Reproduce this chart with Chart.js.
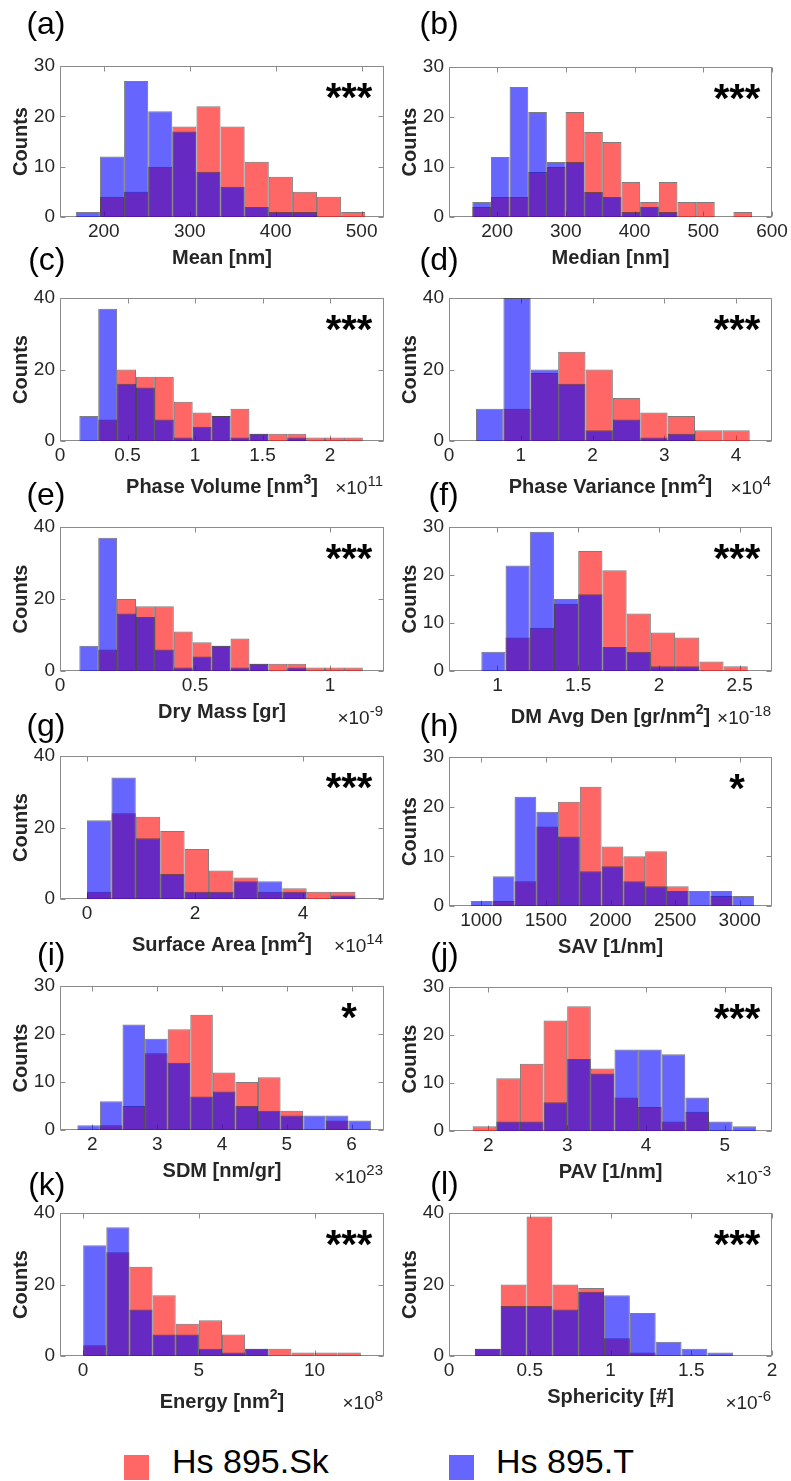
<!DOCTYPE html>
<html>
<head>
<meta charset="utf-8">
<script src="https://cdn.jsdelivr.net/npm/chart.js@4.4.0/dist/chart.umd.min.js"></script>
<style>
  body { margin: 0; background: #fff; width: 791px; height: 1481px; position: relative; overflow: hidden;
         font-family: "Liberation Sans", Arial, Helvetica, sans-serif; }
  canvas { position: absolute; }
  .key { position: absolute; top: 1455px; width: 25px; height: 25px; }
  .lab { position: absolute; top: 1441px; font-size: 34px; line-height: 40px; color: #000; white-space: nowrap; }
</style>
</head>
<body>
<div class="key" style="left:124px;background:rgba(255,0,0,0.6)"></div>
<div class="lab" id="lab-sk" style="left:172px"></div>
<div class="key" style="left:449px;background:rgba(0,0,255,0.6)"></div>
<div class="lab" id="lab-t" style="left:496px"></div>
<script>
const seriesNames = ["Hs 895.Sk", "Hs 895.T"];

// bin edges + counts for each histogram (Sk = red, T = blue)
const meanEdges = [167.40, 195.47, 223.54, 251.61, 279.68, 307.75, 335.82, 363.89, 391.96, 420.03, 448.10, 476.17, 504.24];
const meanSk = [0, 4, 5, 10, 18, 22, 18, 11, 8, 5, 4, 1];
const meanT = [1, 12, 27, 21, 17, 9, 6, 2, 1, 1, 0, 0];
const meanTicks = [200, 300, 400, 500];

const medianEdges = [163.90, 191.04, 218.18, 245.32, 272.46, 299.60, 326.74, 353.88, 381.02, 408.16, 435.30, 462.44, 489.58, 516.72, 543.86, 571.00];
const medianSk = [2, 4, 4, 9, 10, 21, 17, 15, 7, 3, 7, 3, 3, 0, 1];
const medianT = [3, 12, 26, 21, 11, 11, 5, 4, 1, 2, 1, 0, 0, 0, 0];
const medianTicks = [200, 300, 400, 500, 600];

const volumeEdges = [0.143, 0.283, 0.423, 0.563, 0.703, 0.843, 0.983, 1.123, 1.263, 1.403, 1.543, 1.683, 1.823, 1.963, 2.103, 2.243];
const volumeSk = [0, 6, 20, 18, 18, 11, 8, 7, 9, 2, 2, 2, 1, 1, 1];
const volumeT = [7, 37, 16, 15, 6, 1, 4, 7, 1, 2, 0, 1, 0, 0, 0];
const volumeTicks = [0, 0.5, 1, 1.5, 2];

const varianceEdges = [0.376, 0.757, 1.139, 1.520, 1.902, 2.283, 2.664, 3.046, 3.427, 3.809, 4.190];
const varianceSk = [0, 9, 19, 25, 20, 12, 8, 7, 3, 3];
const varianceT = [9, 40, 20, 16, 3, 6, 1, 2, 0, 0];
const varianceTicks = [0, 1, 2, 3, 4];

const dryMassEdges = [0.0715, 0.1415, 0.2115, 0.2815, 0.3515, 0.4215, 0.4915, 0.5615, 0.6315, 0.7015, 0.7715, 0.8415, 0.9115, 0.9815, 1.0515, 1.1215];
const dryMassSk = [0, 6, 20, 18, 18, 11, 8, 7, 9, 2, 2, 2, 1, 1, 1];
const dryMassT = [7, 37, 16, 15, 6, 1, 4, 7, 1, 2, 0, 1, 0, 0, 0];
const dryMassTicks = [0, 0.5, 1];

const densityEdges = [0.90, 1.05, 1.20, 1.35, 1.50, 1.65, 1.80, 1.95, 2.10, 2.25, 2.40, 2.55];
const densitySk = [0, 7, 9, 14, 25, 21, 12, 8, 7, 2, 1];
const densityT = [4, 22, 29, 15, 16, 5, 4, 1, 1, 0, 0];
const densityTicks = [1, 1.5, 2, 2.5];

const surfaceEdges = [0, 0.452, 0.904, 1.356, 1.808, 2.260, 2.712, 3.164, 3.616, 4.068, 4.520, 4.972];
const surfaceSk = [2, 24, 23, 19, 14, 8, 6, 2, 3, 2, 2];
const surfaceT = [22, 34, 17, 7, 2, 2, 5, 5, 2, 0, 1];
const surfaceTicks = [0, 2, 4];

const savEdges = [920, 1088.5, 1257, 1425.5, 1594, 1762.5, 1931, 2099.5, 2268, 2436.5, 2605, 2773.5, 2942, 3110.5];
const savSk = [0, 1, 5, 16, 21, 24, 12, 10, 11, 4, 0, 2, 0];
const savT = [1, 6, 22, 19, 14, 7, 8, 5, 4, 3, 3, 3, 2];
const savTicks = [1000, 1500, 2000, 2500, 3000];

const sdmEdges = [1.767, 2.116, 2.464, 2.813, 3.161, 3.510, 3.859, 4.207, 4.556, 4.904, 5.253, 5.602, 5.950, 6.299];
const sdmSk = [0, 1, 5, 16, 21, 24, 12, 10, 11, 4, 0, 2, 0];
const sdmT = [1, 6, 22, 19, 14, 7, 8, 5, 4, 3, 3, 3, 2];
const sdmTicks = [2, 3, 4, 5, 6];

const pavEdges = [1.8, 2.1, 2.4, 2.7, 3.0, 3.3, 3.6, 3.9, 4.2, 4.5, 4.8, 5.1, 5.4];
const pavSk = [1, 11, 14, 23, 26, 13, 7, 5, 2, 4, 0, 0];
const pavT = [0, 2, 2, 6, 15, 12, 17, 17, 16, 7, 2, 1];
const pavTicks = [2, 3, 4, 5];

const energyEdges = [0, 1, 2, 3, 4, 5, 6, 7, 8, 9, 10, 11, 12];
const energySk = [3, 29, 25, 17, 9, 10, 6, 2, 2, 1, 1, 1];
const energyT = [31, 36, 13, 6, 6, 2, 1, 2, 0, 0, 0, 0];
const energyTicks = [0, 5, 10];

const sphericityEdges = [0.16, 0.32, 0.48, 0.64, 0.80, 0.96, 1.12, 1.28, 1.44, 1.60, 1.76];
const sphericitySk = [2, 20, 39, 20, 19, 5, 1, 0, 0, 0];
const sphericityT = [2, 14, 14, 13, 18, 17, 12, 4, 2, 1];
const sphericityTicks = [0, 0.5, 1, 1.5, 2];

const counts30 = [0, 10, 20, 30];
const counts40 = [0, 20, 40];

const FONT = '"Liberation Sans", Arial, Helvetica, sans-serif';
const INK = "#262626";

// title pieces: [text, superscript?]
const panels = [
  { id: "a", edges: meanEdges, sk: meanSk, t: meanT, xMin: 149, xMax: 526, xTicks: meanTicks, yTicks: counts30,
    title: [["Mean [nm]", 0]], exp: null, stars: "***" },
  { id: "b", edges: medianEdges, sk: medianSk, t: medianT, xMin: 130, xMax: 600, xTicks: medianTicks, yTicks: counts30,
    title: [["Median [nm]", 0]], exp: null, stars: "***" },
  { id: "c", edges: volumeEdges, sk: volumeSk, t: volumeT, xMin: 0, xMax: 2.4, xTicks: volumeTicks, yTicks: counts40,
    title: [["Phase Volume [nm", 0], ["3", 1], ["]", 0]], exp: "11", stars: "***" },
  { id: "d", edges: varianceEdges, sk: varianceSk, t: varianceT, xMin: 0, xMax: 4.5, xTicks: varianceTicks, yTicks: counts40,
    title: [["Phase Variance [nm", 0], ["2", 1], ["]", 0]], exp: "4", stars: "***" },
  { id: "e", edges: dryMassEdges, sk: dryMassSk, t: dryMassT, xMin: 0, xMax: 1.2, xTicks: dryMassTicks, yTicks: counts40,
    title: [["Dry Mass [gr]", 0]], exp: "-9", stars: "***" },
  { id: "f", edges: densityEdges, sk: densitySk, t: densityT, xMin: 0.7, xMax: 2.7, xTicks: densityTicks, yTicks: counts30,
    title: [["DM Avg Den [gr/nm", 0], ["2", 1], ["]", 0]], exp: "-18", stars: "***" },
  { id: "g", edges: surfaceEdges, sk: surfaceSk, t: surfaceT, xMin: -0.5, xMax: 5.5, xTicks: surfaceTicks, yTicks: counts40,
    title: [["Surface Area [nm", 0], ["2", 1], ["]", 0]], exp: "14", stars: "***" },
  { id: "h", edges: savEdges, sk: savSk, t: savT, xMin: 750, xMax: 3250, xTicks: savTicks, yTicks: counts30,
    title: [["SAV [1/nm]", 0]], exp: null, stars: "*" },
  { id: "i", edges: sdmEdges, sk: sdmSk, t: sdmT, xMin: 1.5, xMax: 6.5, xTicks: sdmTicks, yTicks: counts30,
    title: [["SDM [nm/gr]", 0]], exp: "23", stars: "*" },
  { id: "j", edges: pavEdges, sk: pavSk, t: pavT, xMin: 1.5, xMax: 5.6, xTicks: pavTicks, yTicks: counts30,
    title: [["PAV [1/nm]", 0]], exp: "-3", stars: "***" },
  { id: "k", edges: energyEdges, sk: energySk, t: energyT, xMin: -1, xMax: 13, xTicks: energyTicks, yTicks: counts40,
    title: [["Energy [nm", 0], ["2", 1], ["]", 0]], exp: "8", stars: "***" },
  { id: "l", edges: sphericityEdges, sk: sphericitySk, t: sphericityT, xMin: 0, xMax: 2, xTicks: sphericityTicks, yTicks: counts40,
    title: [["Sphericity [#]", 0]], exp: "-6", stars: "***" }
];

// page placement of each axes box
const frames = {
  a: { col: 0, top: 66, bottom: 217, letterY: 33.5 },
  b: { col: 1, top: 67, bottom: 217, letterY: 33.5 },
  c: { col: 0, top: 298, bottom: 441, letterY: 270 },
  d: { col: 1, top: 298, bottom: 441, letterY: 270 },
  e: { col: 0, top: 527, bottom: 671, letterY: 505 },
  f: { col: 1, top: 527, bottom: 671, letterY: 505 },
  g: { col: 0, top: 756, bottom: 899, letterY: 736 },
  h: { col: 1, top: 757, bottom: 906, letterY: 736 },
  i: { col: 0, top: 986, bottom: 1130, letterY: 965 },
  j: { col: 1, top: 987, bottom: 1131, letterY: 965 },
  k: { col: 0, top: 1213, bottom: 1356, letterY: 1195 },
  l: { col: 1, top: 1213, bottom: 1356, letterY: 1194 }
};
const columns = [
  { left: 0, width: 395, axLeft: 60, axRight: 384, letterX: 65.5, countsPad: 9 },
  { left: 395, width: 396, axLeft: 449, axRight: 772, letterX: 63.7, countsPad: 3 }
];

function drawPieces(ctx, pieces, x, y, align, weight, size, supSize, raise) {
  const widths = pieces.map(([txt, sup]) => {
    ctx.font = `${weight} ${sup ? supSize : size}px ${FONT}`;
    return ctx.measureText(txt).width;
  });
  const total = widths.reduce((s, w) => s + w, 0);
  let cx = align === "center" ? x - total / 2 : align === "right" ? x - total : x;
  ctx.textAlign = "left";
  ctx.textBaseline = "alphabetic";
  pieces.forEach(([txt, sup], i) => {
    ctx.font = `${weight} ${sup ? supSize : size}px ${FONT}`;
    ctx.fillText(txt, cx, sup ? y - raise : y);
    cx += widths[i];
  });
}

function makeChart(p) {
  const fr = frames[p.id];
  const col = columns[fr.col];
  const cTop = fr.top - 62;
  const cH = fr.bottom - fr.top + 124;

  const canvas = document.createElement("canvas");
  canvas.width = col.width;
  canvas.height = cH;
  canvas.style.left = col.left + "px";
  canvas.style.top = cTop + "px";
  document.body.appendChild(canvas);

  const centers = p.edges.slice(0, -1).map((e, i) => (e + p.edges[i + 1]) / 2);
  const yMax = p.yTicks[p.yTicks.length - 1];

  const decor = {
    id: "decor",
    beforeDatasetsDraw(chart) {
      const { ctx, chartArea: a, scales } = chart;
      const l = Math.round(a.left) + 0.5, r = Math.round(a.right) - 0.5;
      const t = Math.round(a.top) + 0.5, b = Math.round(a.bottom) - 0.5;
      ctx.save();
      ctx.strokeStyle = "#8c8c8c";
      ctx.lineWidth = 1;
      ctx.strokeRect(l, t, r - l, b - t);
      ctx.beginPath();
      scales.x.ticks.forEach((tk) => {
        const x = Math.round(scales.x.getPixelForValue(tk.value)) + 0.5;
        ctx.moveTo(x, t); ctx.lineTo(x, t + 5);
        ctx.moveTo(x, b); ctx.lineTo(x, b - 5);
      });
      scales.y.ticks.forEach((tk) => {
        const y = Math.round(scales.y.getPixelForValue(tk.value)) + 0.5;
        ctx.moveTo(l, y); ctx.lineTo(l + 5, y);
        ctx.moveTo(r, y); ctx.lineTo(r - 5, y);
      });
      ctx.stroke();
      ctx.restore();
    },
    afterDraw(chart) {
      const { ctx, chartArea: a } = chart;
      ctx.save();
      // panel letter
      ctx.fillStyle = "#000";
      ctx.font = `32px ${FONT}`;
      ctx.textAlign = "right";
      ctx.textBaseline = "alphabetic";
      ctx.fillText("(" + p.id + ")", col.letterX, fr.letterY - cTop);
      // significance stars
      ctx.font = `bold 40px ${FONT}`;
      ctx.textAlign = "center";
      ctx.fillText(p.stars, a.right - 35, a.top + 45);
      // x label
      ctx.fillStyle = INK;
      const hasSup = p.title.some((s) => s[1]);
      drawPieces(ctx, p.title, (a.left + a.right) / 2, a.bottom + (hasSup ? 52 : 47), "center", "bold", 20, 14, 9);
      // axis exponent
      if (p.exp) {
        drawPieces(ctx, [["\u00d710", 0], [p.exp, 1]], a.right - 1, a.bottom + 53, "right", "normal", 19, 15, 8);
      }
      ctx.restore();
    }
  };

  return new Chart(canvas, {
    type: "bar",
    data: {
      datasets: [
        {
          label: seriesNames[0],
          data: p.sk.map((v, i) => ({ x: centers[i], y: v })),
          backgroundColor: "rgba(255,0,0,0.6)",
          order: 2
        },
        {
          label: seriesNames[1],
          data: p.t.map((v, i) => ({ x: centers[i], y: v })),
          backgroundColor: "rgba(0,0,255,0.6)",
          order: 1
        }
      ]
    },
    options: {
      responsive: false,
      animation: false,
      devicePixelRatio: 1,
      layout: { padding: { left: 0, top: 62, right: col.left + col.width - col.axRight, bottom: 32 } },
      datasets: {
        bar: {
          grouped: false,
          barPercentage: 1,
          categoryPercentage: 1,
          borderWidth: 1,
          borderColor: "rgba(38,38,38,0.6)",
          inflateAmount: 0
        }
      },
      plugins: { legend: { display: false }, tooltip: { enabled: false } },
      scales: {
        x: {
          type: "linear",
          min: p.xMin,
          max: p.xMax,
          bounds: "data",
          offset: false,
          grid: { display: false, drawTicks: false },
          border: { display: false },
          ticks: {
            font: { family: FONT, size: 19 },
            color: INK,
            padding: 3,
            maxRotation: 0,
            autoSkip: false,
            callback: (v) => String(v)
          },
          afterBuildTicks: (s) => { s.ticks = p.xTicks.map((v) => ({ value: v })); },
          afterFit: (s) => { s.height = 30; }
        },
        y: {
          min: 0,
          max: yMax,
          bounds: "data",
          grid: { display: false, drawTicks: false },
          border: { display: false },
          ticks: {
            font: { family: FONT, size: 19 },
            color: INK,
            padding: 5,
            callback: (v) => String(v)
          },
          title: {
            display: true,
            text: "Counts",
            color: INK,
            font: { family: FONT, size: 20, weight: "bold" },
            padding: { top: col.countsPad, bottom: 0 }
          },
          afterBuildTicks: (s) => { s.ticks = p.yTicks.map((v) => ({ value: v })); },
          afterFit: (s) => { s.width = col.axLeft - col.left; }
        }
      }
    },
    plugins: [decor]
  });
}

document.getElementById("lab-sk").textContent = seriesNames[0];
document.getElementById("lab-t").textContent = seriesNames[1];
panels.forEach(makeChart);
</script>
</body>
</html>
